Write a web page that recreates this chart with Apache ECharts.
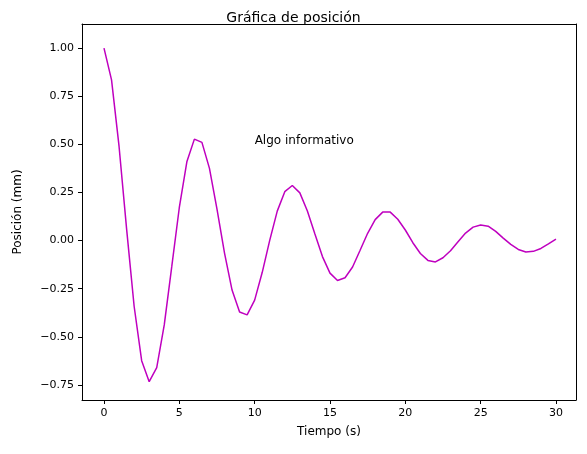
<!DOCTYPE html>
<html><head><meta charset="utf-8">
<script src="https://cdn.jsdelivr.net/npm/echarts@6/dist/echarts.min.js"></script>
<style>html,body{margin:0;padding:0;background:#fff}#c{width:587px;height:454px}</style>
</head><body><div id="c"></div>
<script>
const times = [0,0.5,1,1.5,2,2.5,3,3.5,4,4.5,5,5.5,6,6.5,7,7.5,8,8.5,9,9.5,10,10.5,11,11.5,12,12.5,13,13.5,14,14.5,15,15.5,16,16.5,17,17.5,18,18.5,19,19.5,20,20.5,21,21.5,22,22.5,23,23.5,24,24.5,25,25.5,26,26.5,27,27.5,28,28.5,29,29.5,30];
const positions = [1.00,0.835,0.489,0.061,-0.341,-0.624,-0.733,-0.660,-0.438,-0.134,0.172,0.409,0.527,0.510,0.375,0.164,-0.065,-0.257,-0.371,-0.386,-0.309,-0.166,0.001,0.153,0.254,0.286,0.248,0.154,0.034,-0.083,-0.169,-0.207,-0.193,-0.137,-0.050,0.038,0.109,0.148,0.148,0.111,0.055,-0.011,-0.067,-0.103,-0.111,-0.089,-0.053,-0.006,0.039,0.070,0.081,0.075,0.048,0.013,-0.020,-0.046,-0.059,-0.056,-0.041,-0.017,0.008];
const xTicks = [0,5,10,15,20,25,30];
const yTicks = [-0.75,-0.5,-0.25,0,0.25,0.5,0.75,1.0];
const annotation = {x:10, y:0.5, text:'Algo informativo'};
const font = 'DejaVu Sans';
const ch = echarts.init(document.getElementById('c'));
const lineS = {show:true, onZero:false, lineStyle:{color:'#000', width:1}};
ch.setOption({
  animation:false,
  textStyle:{fontFamily:font},
  title:{text:'Gráfica de posición', left:'center', top:6, textStyle:{fontFamily:font, fontSize:14, fontWeight:'normal', color:'#000'}},
  grid:{left:82, right:11, top:24, bottom:54},
  xAxis:[{type:'value', min:-1.46, max:31.33, name:'Tiempo (s)', nameLocation:'middle', nameGap:26,
    nameTextStyle:{fontSize:12, color:'#000'}, axisLine:lineS,
    axisTick:{show:true, customValues:xTicks, length:4, lineStyle:{color:'#000'}},
    axisLabel:{customValues:xTicks, color:'#000', fontSize:11, formatter:v=>String(v)}, splitLine:{show:false}},
    {type:'value', position:'top', min:-1.46, max:31.33, axisLine:lineS, axisTick:{show:false}, axisLabel:{show:false}, splitLine:{show:false}}],
  yAxis:[{type:'value', min:-0.828, max:1.125, name:'Posición (mm)', nameLocation:'middle', nameGap:58,
    nameTextStyle:{fontSize:12, color:'#000'}, axisLine:lineS,
    axisTick:{show:true, customValues:yTicks, length:4, lineStyle:{color:'#000'}},
    axisLabel:{customValues:yTicks, color:'#000', fontSize:11, formatter:v=>v.toFixed(2).replace('-','−')}, splitLine:{show:false}},
    {type:'value', position:'right', min:-0.828, max:1.125, axisLine:lineS, axisTick:{show:false}, axisLabel:{show:false}, splitLine:{show:false}}],
  series:[{type:'line', data:times.map((t,i)=>[t,positions[i]]), showSymbol:false, smooth:false,
    lineStyle:{color:'#bf00bf', width:1.5}}]
});
const p = ch.convertToPixel({xAxisIndex:0,yAxisIndex:0},[annotation.x, annotation.y]);
ch.setOption({graphic:[{type:'text', x:p[0], y:p[1]+3, style:{text:annotation.text, font:'12px "DejaVu Sans"', fill:'#000', textVerticalAlign:'bottom'}}]});
</script></body></html>
